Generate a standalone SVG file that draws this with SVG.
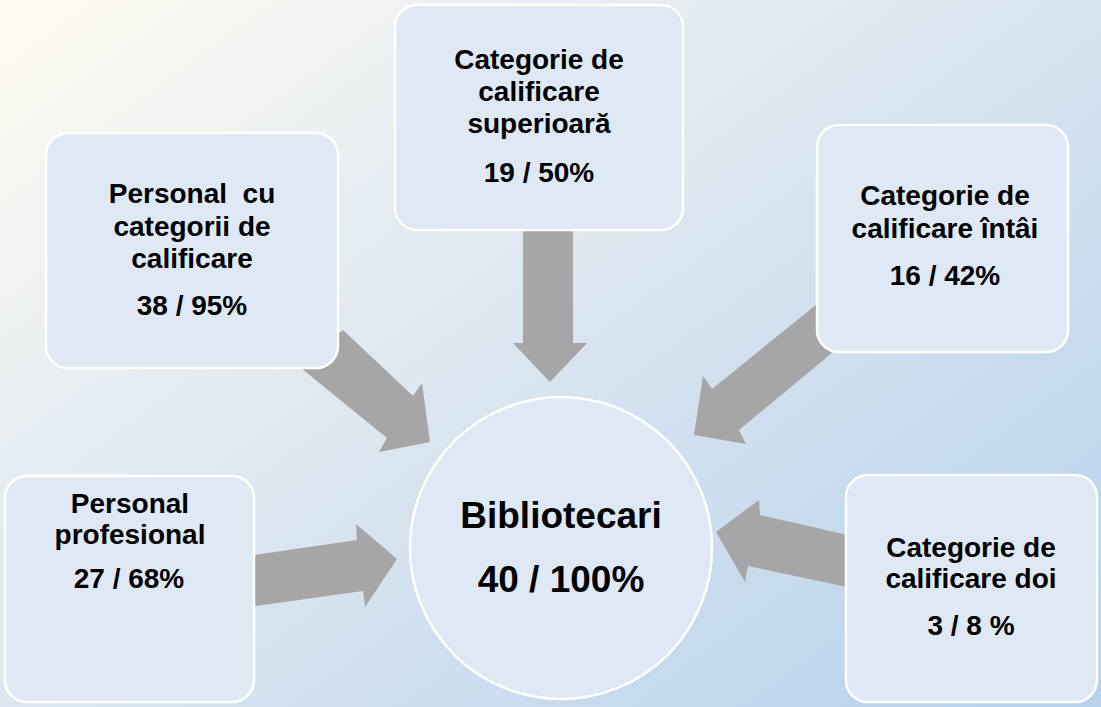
<svg xmlns="http://www.w3.org/2000/svg" width="1101" height="707" viewBox="0 0 1101 707">
  <defs>
    <linearGradient id="bg" x1="0" y1="0" x2="700" y2="950" gradientUnits="userSpaceOnUse">
      <stop offset="0" stop-color="#fffbf0"/>
      <stop offset="0.3" stop-color="#e8eef2"/>
      <stop offset="1" stop-color="#b8d2ec"/>
    </linearGradient>
  </defs>
  <style>
    .box { fill: #dee9f5; stroke: #ffffff; stroke-width: 2.5; }
    .arrow { fill: #a6a6a6; }
    text { font-family: "Liberation Sans", Arial, sans-serif; font-weight: bold; fill: #000; text-anchor: middle; }
    .t { font-size: 28px; }
    .c { font-size: 37px; }
  </style>
  <rect x="0" y="0" width="1101" height="707" fill="url(#bg)"/>

  <g id="connectors">
    <polygon class="arrow" points="523,225 573,225 573,343 587,343 550,382 513,343 523,343"/>
    <polygon class="arrow" points="343,330 413,396 422,383 430,442 379,452 387,438 296,364"/>
    <polygon class="arrow" points="248,556 357,540 356,524 397,559 365,607 363,591 248,607"/>
    <polygon class="arrow" points="822,300 712,389 703,376 694,435 746,444 739,430 838,348"/>
    <polygon class="arrow" points="852,536 760,515 759,500 716,532 745,582 748,566 852,588"/>
  </g>

  <g id="node-center">
    <circle class="box" cx="561" cy="548" r="151"/>
    <text class="c" x="561" y="528">Bibliotecari</text>
    <text class="c" x="561" y="592">40 / 100%</text>
  </g>

  <g id="node-top">
    <rect class="box" x="395" y="5" width="288" height="225" rx="22"/>
    <text class="t" x="539" y="69">Categorie de</text>
    <text class="t" x="539" y="101">calificare</text>
    <text class="t" x="539" y="133">superioară</text>
    <text class="t" x="539" y="182">19 / 50%</text>
  </g>

  <g id="node-upper-left">
    <rect class="box" x="46" y="133" width="292" height="235" rx="22"/>
    <text class="t" x="192" y="203" xml:space="preserve">Personal  cu</text>
    <text class="t" x="192" y="236">categorii de</text>
    <text class="t" x="192" y="268">calificare</text>
    <text class="t" x="192" y="315">38 / 95%</text>
  </g>

  <g id="node-upper-right">
    <rect class="box" x="817" y="125" width="251" height="227" rx="22"/>
    <text class="t" x="945" y="205">Categorie de</text>
    <text class="t" x="945" y="238">calificare întâi</text>
    <text class="t" x="945" y="285">16 / 42%</text>
  </g>

  <g id="node-lower-left">
    <rect class="box" x="5" y="476" width="249" height="226" rx="22"/>
    <text class="t" x="130" y="513">Personal</text>
    <text class="t" x="130" y="544">profesional</text>
    <text class="t" x="129" y="588">27 / 68%</text>
  </g>

  <g id="node-lower-right">
    <rect class="box" x="846" y="475" width="251" height="227" rx="22"/>
    <text class="t" x="971" y="557">Categorie de</text>
    <text class="t" x="971" y="588">calificare doi</text>
    <text class="t" x="971" y="635">3 / 8 %</text>
  </g>
</svg>
